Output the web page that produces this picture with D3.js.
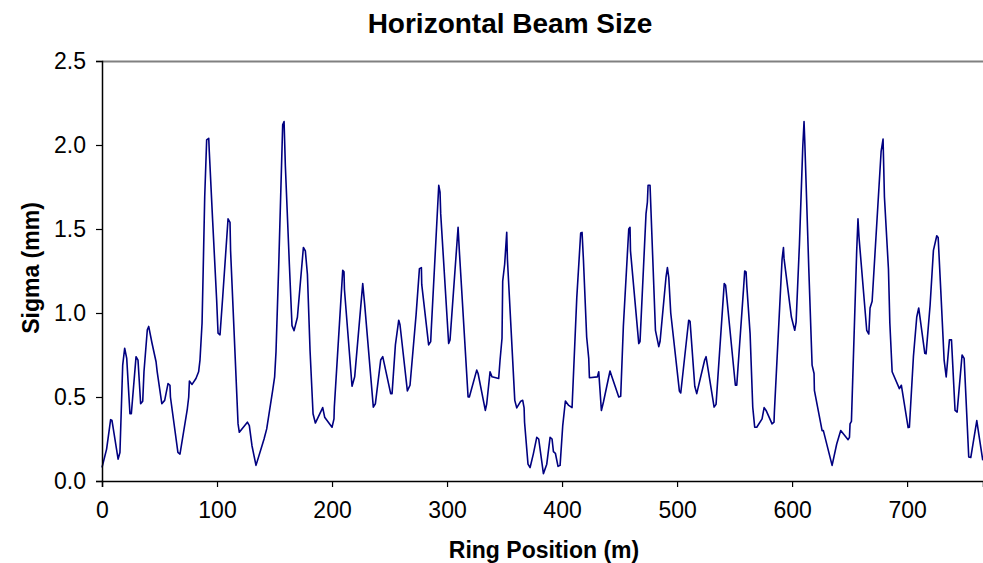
<!DOCTYPE html>
<html>
<head>
<meta charset="utf-8">
<script src="https://cdn.jsdelivr.net/npm/d3@7"></script>
<style>
    body { margin: 0; background: #fff; }
    text { font-family: "Liberation Sans", Arial, sans-serif; fill: #000; }
</style>
</head>
<body>
<svg id="chart" width="983" height="563"></svg>
<script>
// ring position (m) and horizontal sigma (mm)
const position = [0, 4, 7.5, 8.7, 14, 15.6, 18, 19.7, 21.5, 24.3, 25.5, 29.6, 31.3, 33.6, 35.4, 36.5, 39.4, 40.6, 43.5, 47,
    48, 52, 54.5, 57.4, 59.1, 59.5, 66, 67.8, 74.2, 75.4, 76, 78.3, 81.7, 84, 85.2, 87, 88, 89.3, 91, 92.8,
    93.3, 96.2, 99.7, 100.9, 102.6, 105, 109.6, 111.3, 111.8, 114.8, 118.3, 119.4, 126.4, 128.1, 130.4, 133.9, 140.9, 143.2, 148.4, 150.1,
    151.3, 153.6, 157.1, 158.3, 159.4, 162.9, 165.2, 167, 169.9, 175.1, 176.8, 178.6, 180.9, 183.5, 185.5, 191.9, 193.6, 200, 201.7, 202,
    209.3, 210.4, 210.8, 217.4, 219.7, 226.7, 228.4, 235.9, 237.7, 242.3, 244.1, 251, 252.2, 255.1, 258, 259.1, 265.5, 267.8, 273.1, 276,
    277.7, 278, 284, 285.8, 286.2, 292.8, 293.9, 294.5, 301.4, 302.6, 309.6, 310.7, 318.3, 319.4, 325.8, 327, 333.3, 334.5, 337.4, 339.1,
    344.9, 346.1, 347.8, 348.4, 350.1, 351.9, 352.5, 358.9, 360.6, 364.1, 365.8, 367, 367.4, 370.4, 372.2, 375, 378, 379.7, 383.8, 386.7,
    389.6, 391.3, 392.5, 394.2, 396.5, 398.3, 400.6, 402.9, 405.8, 408.7, 412.8, 416.2, 417.4, 418.6, 421.4, 423.2, 423.8, 430.7, 431.9, 434.2,
    436, 441.7, 442.9, 449.3, 451, 453.3, 458, 459.1, 459.5, 466.7, 467.8, 473, 474.2, 474.8, 476.5, 481.2, 484.1, 485.2, 490.4, 491.6,
    492.8, 494.5, 502, 503.2, 510.1, 511.3, 515.4, 517.1, 524, 525.2, 532.2, 533.9, 541, 542.2, 550.7, 551.9, 557.7, 558.8, 560, 560.6,
    563.5, 565.8, 567.5, 569.3, 573.9, 575.7, 577.4, 582.6, 584.3, 584.6, 591.3, 592.5, 593, 599.4, 601.2, 602.3, 603.5, 606.4, 609.3, 610.4,
    611, 614.5, 617.4, 619.1, 619.4, 626.1, 627.2, 634.8, 638.8, 642.3, 648.7, 649.9, 650.4, 651.6, 656.2, 657.3, 658.2, 664.9, 666.7, 667.8,
    669.6, 677.4, 679.1, 680.3, 683.8, 685, 687, 693.3, 695, 700.9, 702, 705.5, 708.4, 710.1, 715.4, 716.5, 720, 722.9, 725.8, 727,
    729.3, 732.2, 734, 736.8, 738.6, 741.7, 743.5, 747.8, 749.6, 753.6, 755.4, 760.6, 762.3, 765.8]

const sigma = [0.08, 0.19, 0.365, 0.36, 0.13, 0.17, 0.69, 0.79, 0.73, 0.40, 0.40, 0.74, 0.72, 0.46, 0.475, 0.65, 0.90, 0.92, 0.82, 0.71,
    0.65, 0.46, 0.48, 0.58, 0.57, 0.50, 0.17, 0.16, 0.43, 0.50, 0.595, 0.575, 0.61, 0.65, 0.72, 0.94, 1.26, 1.69, 2.03, 2.04,
    1.96, 1.55, 1.075, 0.88, 0.87, 1.10, 1.56, 1.54, 1.37, 0.895, 0.34, 0.29, 0.35, 0.33, 0.21, 0.093, 0.25, 0.31, 0.54, 0.62,
    0.77, 1.27, 2.12, 2.14, 1.88, 1.29, 0.925, 0.895, 0.975, 1.39, 1.37, 1.23, 0.775, 0.40, 0.345, 0.437, 0.38, 0.32, 0.37, 0.44,
    1.254, 1.245, 1.14, 0.564, 0.62, 1.175, 1.05, 0.44, 0.46, 0.72, 0.74, 0.52, 0.52, 0.81, 0.957, 0.93, 0.536, 0.57, 0.99, 1.264,
    1.27, 1.17, 0.81, 0.83, 0.89, 1.76, 1.72, 1.59, 0.818, 0.84, 1.51, 1.37, 0.50, 0.50, 0.66, 0.64, 0.42, 0.46, 0.65, 0.62,
    0.61, 0.72, 0.85, 1.19, 1.29, 1.48, 1.32, 0.48, 0.435, 0.475, 0.48, 0.435, 0.35, 0.10, 0.08, 0.16, 0.26, 0.25, 0.044, 0.10,
    0.26, 0.25, 0.175, 0.165, 0.087, 0.093, 0.33, 0.476, 0.45, 0.437, 1.09, 1.476, 1.48, 1.315, 0.857, 0.73, 0.615, 0.62, 0.65, 0.42,
    0.47, 0.655, 0.63, 0.50, 0.505, 0.92, 1.50, 1.51, 1.37, 0.818, 0.83, 1.59, 1.66, 1.76, 1.76, 0.897, 0.80, 0.83, 1.214, 1.27,
    1.21, 1.00, 0.536, 0.524, 0.957, 0.95, 0.564, 0.52, 0.72, 0.74, 0.44, 0.456, 1.175, 1.165, 0.57, 0.57, 1.135, 1.25, 1.245, 1.165,
    0.877, 0.44, 0.32, 0.32, 0.37, 0.437, 0.42, 0.34, 0.35, 0.41, 1.32, 1.39, 1.325, 0.976, 0.926, 0.897, 0.946, 1.41, 1.99, 2.14,
    2.03, 1.27, 0.69, 0.64, 0.54, 0.30, 0.30, 0.093, 0.22, 0.30, 0.246, 0.26, 0.34, 0.355, 1.373, 1.56, 1.45, 0.897, 0.875, 1.03,
    1.07, 1.96, 2.035, 1.69, 1.26, 0.94, 0.65, 0.55, 0.57, 0.318, 0.32, 0.74, 0.976, 1.03, 0.76, 0.757, 1.046, 1.373, 1.46, 1.45,
    1.133, 0.72, 0.62, 0.84, 0.84, 0.42, 0.41, 0.75, 0.73, 0.143, 0.14, 0.36, 0.28, 0.123]

const xTicks = [0, 100, 200, 300, 400, 500, 600, 700]
const yTicks = [0, 0.5, 1.0, 1.5, 2.0, 2.5]

const svg = d3.select("#chart")
const plotLeft = 102, plotRight = 983, plotTop = 61, plotBottom = 481

const x = d3.scaleLinear().domain([0, 766]).range([plotLeft, plotRight])
const y = d3.scaleLinear().domain([0, 2.5]).range([plotBottom, plotTop])

// plot frame top edge (grey)
svg.append("line")
    .attr("x1", plotLeft).attr("x2", plotRight)
    .attr("y1", plotTop + 0.5).attr("y2", plotTop + 0.5)
    .attr("stroke", "#808080")
    .attr("stroke-width", 2)

const points = position.map((p, i) => [p, sigma[i]])

svg.append("path")
    .datum(points)
    .attr("fill", "none")
    .attr("stroke", "#000080")
    .attr("stroke-width", 1.6)
    .attr("stroke-linejoin", "round")
    .attr("d", d3.line().x(d => x(d[0])).y(d => y(d[1])))

// axes
const xAxis = svg.append("g")
    .attr("transform", "translate(0," + plotBottom + ")")
    .call(d3.axisBottom(x).tickValues(xTicks).tickSize(6).tickPadding(15).tickFormat(d3.format("d")))

const yAxis = svg.append("g")
    .attr("transform", "translate(" + plotLeft + ",0)")
    .call(d3.axisLeft(y).tickValues(yTicks).tickSize(6).tickPadding(10).tickFormat(d3.format(".1f")))

;[xAxis, yAxis].forEach(ax => {
    ax.select(".domain").attr("stroke", "#000").attr("stroke-width", 1.5)
    ax.selectAll(".tick line").attr("stroke", "#000").attr("stroke-width", 1.2)
    ax.selectAll(".tick text")
        .attr("font-family", "Liberation Sans, Arial, sans-serif")
        .attr("font-size", 23)
        .attr("fill", "#000")
})

// titles
svg.append("text")
    .attr("x", 510)
    .attr("y", 33)
    .attr("text-anchor", "middle")
    .attr("font-size", 28)
    .attr("font-weight", "bold")
    .text("Horizontal Beam Size")

svg.append("text")
    .attr("x", 544)
    .attr("y", 558)
    .attr("text-anchor", "middle")
    .attr("font-size", 23)
    .attr("font-weight", "bold")
    .text("Ring Position (m)")

svg.append("text")
    .attr("transform", "translate(39,268) rotate(-90)")
    .attr("text-anchor", "middle")
    .attr("font-size", 23)
    .attr("font-weight", "bold")
    .text("Sigma (mm)")
</script>
</body>
</html>
